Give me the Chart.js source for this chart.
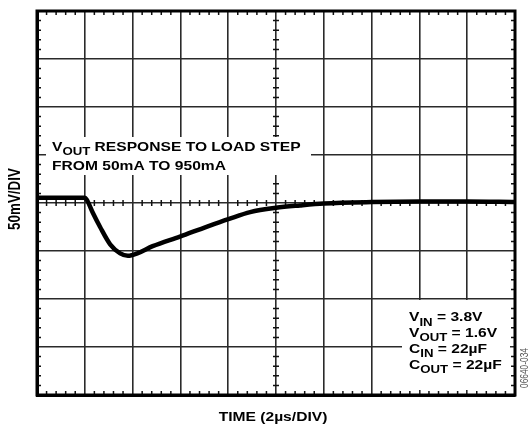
<!DOCTYPE html>
<html>
<head>
<meta charset="utf-8">
<script src="https://cdn.jsdelivr.net/npm/chart.js@4"></script>
<style>
  html, body { margin: 0; padding: 0; background: #fff; }
</style>
</head>
<body>
<canvas id="scope" width="531" height="425"></canvas>
<script>
// time in divisions (2us/DIV), vout in divisions (50mV/DIV)
const timeDiv = [0, 0.5, 1.0, 1.04, 1.17, 1.32, 1.53, 1.74, 1.9, 2.1, 2.42, 2.99, 3.56, 4.02, 4.46, 5.0, 5.5, 6.0, 7.0, 8.0, 9.0, 10];
const voutDiv = [0.11, 0.11, 0.11, 0.07, -0.21, -0.5, -0.86, -1.05, -1.1, -1.05, -0.9, -0.7, -0.49, -0.33, -0.19, -0.1, -0.05, -0.01, 0.02, 0.03, 0.03, 0.02];

const noteTop = [
  [["V", 0], ["OUT", 1], [" RESPONSE TO LOAD STEP", 0]],
  [["FROM 50mA TO 950mA", 0]],
];
const noteBottom = [
  [["V", 0], ["IN", 1], [" = 3.8V", 0]],
  [["V", 0], ["OUT", 1], [" = 1.6V", 0]],
  [["C", 0], ["IN", 1], [" = 22\u00b5F", 0]],
  [["C", 0], ["OUT", 1], [" = 22\u00b5F", 0]],
];
const yTitle = "50mV/DIV";
const xTitle = "TIME (2\u00b5s/DIV)";
const figId = "06640-034";

const FONT = '"Liberation Sans", Arial, sans-serif';
const STRETCH = 1.2;

// draws a line made of normal and subscript pieces, stretched a little wide
const drawRich = (ctx, pieces, x, y) => {
  ctx.save();
  ctx.translate(x, y);
  ctx.scale(STRETCH, 1);
  let cx = 0;
  pieces.forEach(([txt, sub]) => {
    ctx.font = sub ? `bold 11px ${FONT}` : `bold 13px ${FONT}`;
    ctx.fillText(txt, cx, sub ? 4.5 : 0);
    cx += ctx.measureText(txt).width;
  });
  ctx.restore();
};

const scopeDecor = {
  id: "scopeDecor",
  beforeDatasetsDraw(chart) {
    const { ctx, chartArea: a, scales: { x, y } } = chart;
    const x0 = x.getPixelForValue(5);
    const y0 = y.getPixelForValue(0);
    ctx.save();
    ctx.strokeStyle = "#111";
    ctx.lineWidth = 1.5;
    ctx.beginPath();
    for (let i = 1; i < 50; i++) {
      if (i % 5 === 0) continue;
      const px = x.getPixelForValue(i / 5);
      ctx.moveTo(px, a.top); ctx.lineTo(px, a.top + 4);
      ctx.moveTo(px, a.bottom - 4); ctx.lineTo(px, a.bottom);
      ctx.moveTo(px, y0 - 3); ctx.lineTo(px, y0 + 3);
    }
    for (let i = -19; i < 20; i++) {
      if (i % 5 === 0) continue;
      const py = y.getPixelForValue(i / 5);
      ctx.moveTo(a.left, py); ctx.lineTo(a.left + 4, py);
      ctx.moveTo(a.right - 4, py); ctx.lineTo(a.right, py);
      ctx.moveTo(x0 - 3, py); ctx.lineTo(x0 + 3, py);
    }
    ctx.stroke();

    // white boxes behind the notes
    ctx.fillStyle = "#fff";
    ctx.fillRect(46, 137, 265, 38);
    ctx.fillRect(402, 300, 108, 90);
    ctx.restore();
  },
  afterDatasetsDraw(chart) {
    const { ctx, chartArea: a } = chart;
    ctx.save();
    ctx.strokeStyle = "#000";
    ctx.lineWidth = 3;
    ctx.strokeRect(a.left, a.top, a.right - a.left, a.bottom - a.top);
    ctx.restore();
  },
  afterDraw(chart) {
    const { ctx, chartArea: a } = chart;
    ctx.save();
    ctx.fillStyle = "#000";
    ctx.textBaseline = "alphabetic";
    ctx.textAlign = "left";
    noteTop.forEach((line, i) => drawRich(ctx, line, 52, 150.5 + i * 19.5));
    noteBottom.forEach((line, i) => drawRich(ctx, line, 409, 321 + i * 15.9));

    ctx.font = `bold 13px ${FONT}`;
    ctx.textAlign = "center";
    ctx.save();
    ctx.translate((a.left + a.right) / 2 - 3, 421);
    ctx.scale(STRETCH, 1);
    ctx.fillText(xTitle, 0, 0);
    ctx.restore();

    ctx.save();
    ctx.translate(20, 199);
    ctx.scale(STRETCH, 1);
    ctx.rotate(-Math.PI / 2);
    ctx.font = `bold 13.4px ${FONT}`;
    ctx.fillText(yTitle, 0, 0);
    ctx.restore();

    ctx.save();
    ctx.translate(528, 368);
    ctx.scale(STRETCH, 1);
    ctx.rotate(-Math.PI / 2);
    ctx.fillStyle = "#555";
    ctx.font = `8.4px ${FONT}`;
    ctx.fillText(figId, 0, 0);
    ctx.restore();
    ctx.restore();
  },
};

const gridOpts = { color: "#2a2a2a", lineWidth: 1.6, drawTicks: false };
const borderOpts = { display: true, color: "#000", width: 3 };

new Chart(document.getElementById("scope"), {
  type: "line",
  data: {
    datasets: [
      {
        data: timeDiv.map((t, i) => ({ x: t, y: voutDiv[i] })),
        borderColor: "#000",
        borderWidth: 4.5,
        pointRadius: 0,
        cubicInterpolationMode: "monotone",
        fill: false,
      },
    ],
  },
  options: {
    responsive: false,
    animation: false,
    layout: { padding: { left: 37, top: 11, right: 16, bottom: 30 } },
    plugins: { legend: { display: false }, tooltip: { enabled: false } },
    scales: {
      x: {
        type: "linear", min: 0, max: 10,
        ticks: { display: false, stepSize: 1 },
        grid: gridOpts, border: borderOpts,
      },
      y: {
        type: "linear", min: -4, max: 4,
        ticks: { display: false, stepSize: 1 },
        grid: gridOpts, border: borderOpts,
      },
    },
  },
  plugins: [scopeDecor],
});
</script>
</body>
</html>
